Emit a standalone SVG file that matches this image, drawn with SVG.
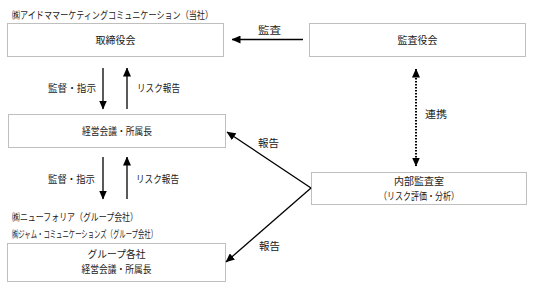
<svg xmlns="http://www.w3.org/2000/svg" width="533" height="289" viewBox="0 0 533 289">
<style>
text{font-family:"Noto Sans CJK JP","Noto Sans",sans-serif;font-size:10px;fill:#1a1a1a}
.c{text-anchor:middle}
.box{fill:#fff;stroke:#bfbfbf;stroke-width:1}
.ln{stroke:#000;stroke-width:1.3;fill:none}
.dot{stroke:#000;stroke-width:2;stroke-dasharray:1.5 1.5;fill:none}
</style>
<defs>
<marker id="ah" markerUnits="userSpaceOnUse" markerWidth="9" markerHeight="8" refX="8.5" refY="4" orient="auto-start-reverse">
<path d="M0,0 L9,4 L0,8 z" fill="#000"/>
</marker>
</defs>
<rect width="533" height="289" fill="#fff"/>
<text x="12" y="18.5" textLength="201" lengthAdjust="spacingAndGlyphs">㈱アイドママーケティングコミュニケーション（当社）</text>
<g id="torishimariyakukai">
<rect class="box" x="7.5" y="23.5" width="216" height="33"/>
<text class="c" x="115.5" y="43.5">取締役会</text>
</g>
<g id="kansayakukai">
<rect class="box" x="309.5" y="23.5" width="216" height="33"/>
<text class="c" x="417.5" y="43.5">監査役会</text>
</g>
<g id="keieikaigi">
<rect class="box" x="8.5" y="114.5" width="217" height="33"/>
<text class="c" x="117" y="134.5" textLength="70" lengthAdjust="spacingAndGlyphs">経営会議・所属長</text>
</g>
<g id="naibukansa">
<rect class="box" x="311.5" y="172.5" width="215" height="32"/>
<text class="c" x="419" y="184.5" font-size="9.5">内部監査室</text>
<text class="c" x="419" y="199.5" font-size="9.5" textLength="80" lengthAdjust="spacingAndGlyphs">（リスク評価・分析）</text>
</g>
<text x="12" y="221" textLength="126" lengthAdjust="spacingAndGlyphs">㈱ニューフォリア（グループ会社）</text>
<text x="12" y="237.5" textLength="145" lengthAdjust="spacingAndGlyphs">㈱ジャム・コミュニケーションズ（グループ会社）</text>
<g id="group">
<rect class="box" x="7.5" y="243.5" width="218" height="38"/>
<text class="c" x="116.5" y="258" textLength="58" lengthAdjust="spacingAndGlyphs">グループ各社</text>
<text class="c" x="116.5" y="273" textLength="70" lengthAdjust="spacingAndGlyphs">経営会議・所属長</text>
</g>
<g id="connectors">
<line class="ln" x1="303" y1="39.5" x2="232" y2="39.5" marker-end="url(#ah)"/>
<line class="ln" x1="103" y1="68" x2="103" y2="109" marker-end="url(#ah)"/>
<line class="ln" x1="127" y1="109" x2="127" y2="68" marker-end="url(#ah)"/>
<line class="ln" x1="103" y1="157" x2="103" y2="199" marker-end="url(#ah)"/>
<line class="ln" x1="127" y1="199" x2="127" y2="157" marker-end="url(#ah)"/>
<line class="dot" x1="416" y1="69" x2="416" y2="166" marker-start="url(#ah)" marker-end="url(#ah)"/>
<line class="ln" x1="311" y1="188" x2="227" y2="132" marker-end="url(#ah)"/>
<line class="ln" x1="311" y1="188" x2="226" y2="262" marker-end="url(#ah)"/>
<text x="258" y="33.5" textLength="23" lengthAdjust="spacingAndGlyphs">監査</text>
<text x="48" y="91.5" textLength="48" lengthAdjust="spacingAndGlyphs">監督・指示</text>
<text x="137" y="91.5" textLength="43" lengthAdjust="spacingAndGlyphs">リスク報告</text>
<text x="48" y="183" textLength="47" lengthAdjust="spacingAndGlyphs">監督・指示</text>
<text x="136" y="183" textLength="43" lengthAdjust="spacingAndGlyphs">リスク報告</text>
<text x="425" y="117.5" textLength="22" lengthAdjust="spacingAndGlyphs">連携</text>
<text x="258" y="146.5" textLength="21" lengthAdjust="spacingAndGlyphs">報告</text>
<text x="259" y="249.5" textLength="21" lengthAdjust="spacingAndGlyphs">報告</text>
</g>
</svg>
